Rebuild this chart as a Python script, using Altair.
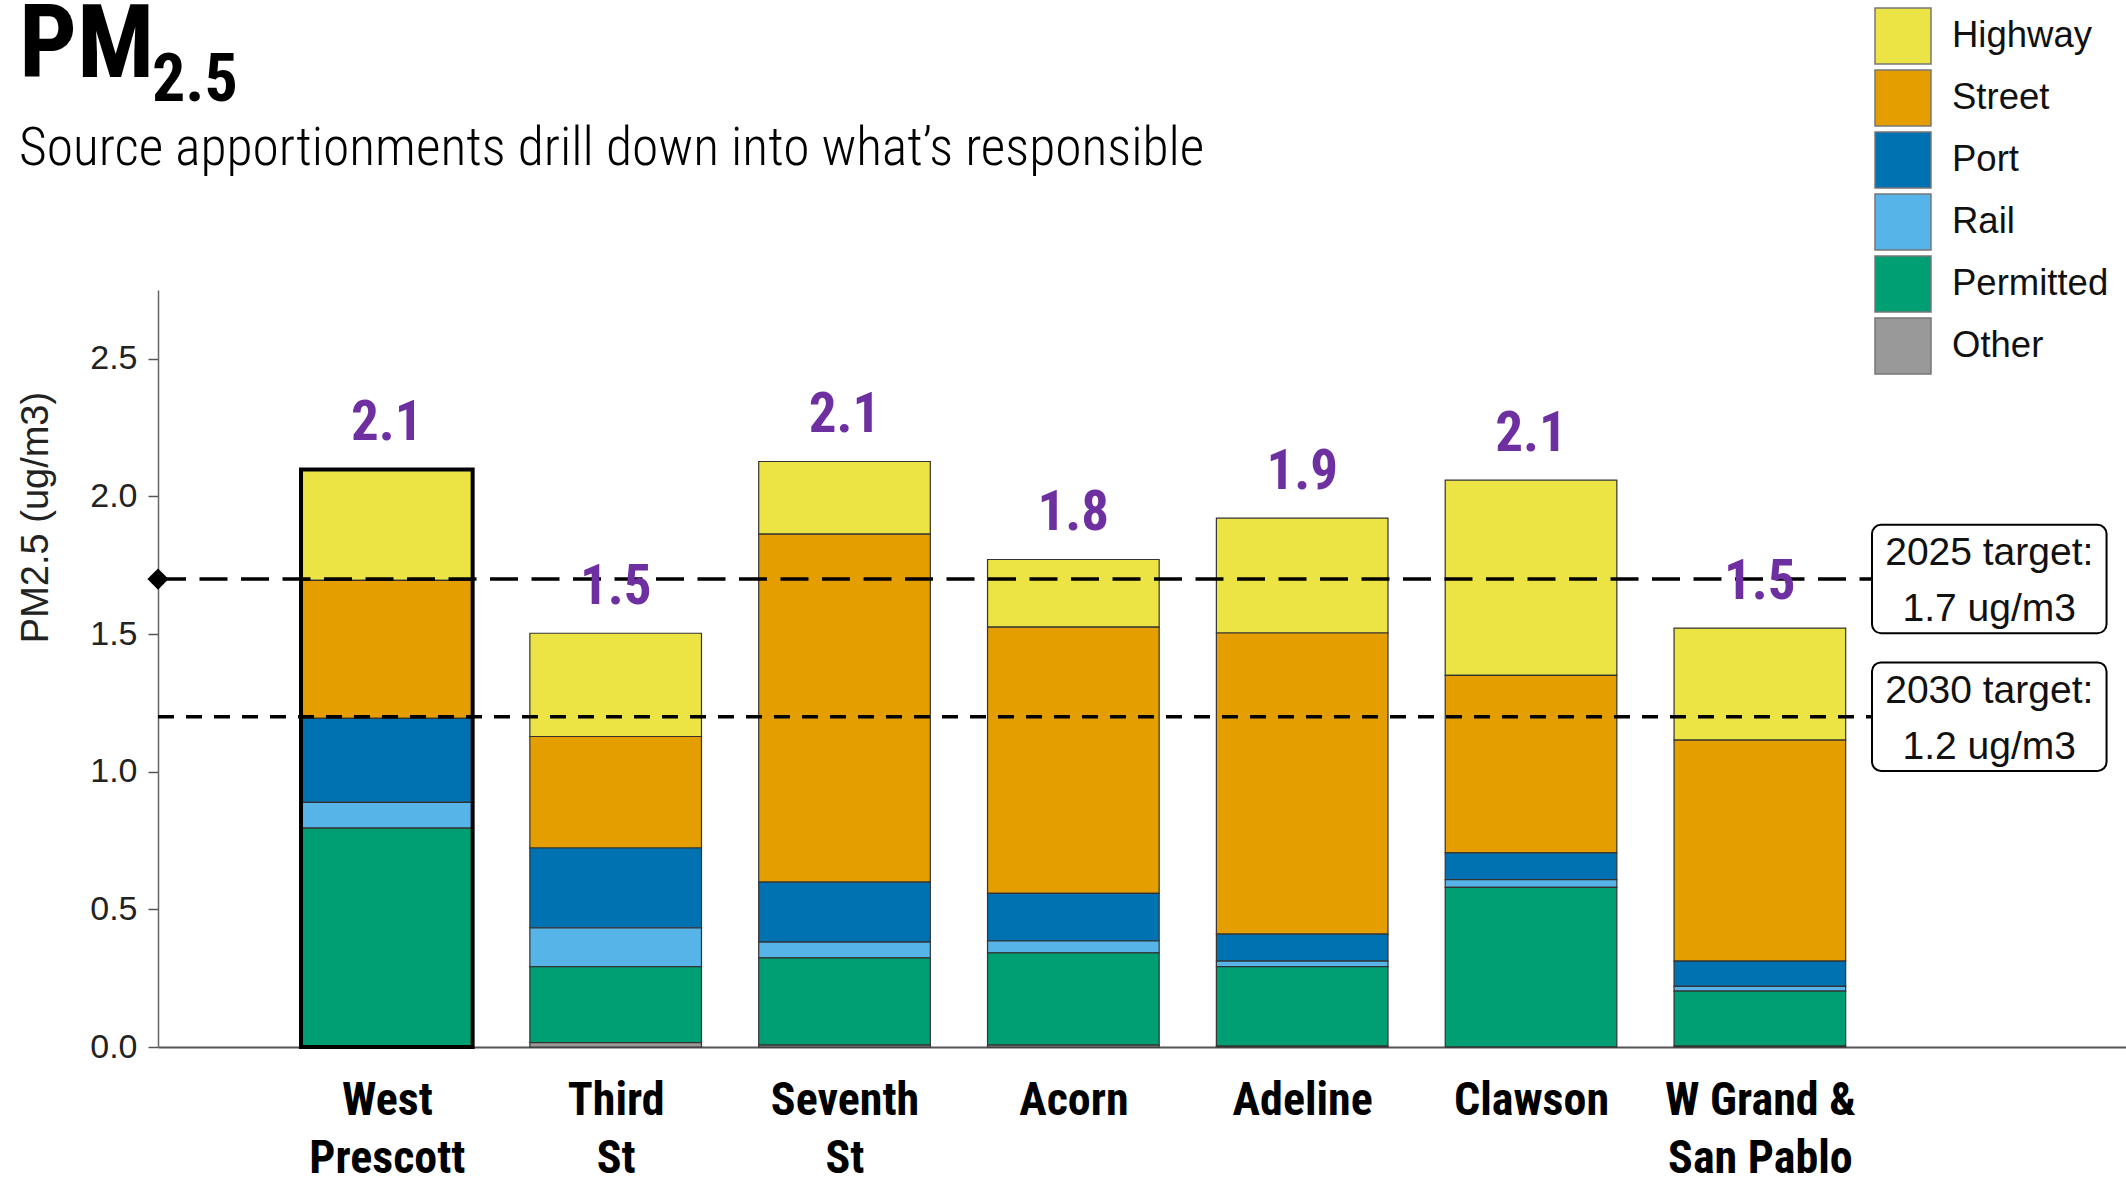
import altair as alt
import pandas as pd

# ---------------- data ----------------
sites = ["West Prescott", "Third St", "Seventh St", "Acorn", "Adeline", "Clawson", "W Grand & San Pablo"]
site_label_lines = [["West", "Prescott"], ["Third", "St"], ["Seventh", "St"], ["Acorn"],
                    ["Adeline"], ["Clawson"], ["W Grand &", "San Pablo"]]
highlighted = [True, False, False, False, False, False, False]

sources = ["Highway", "Street", "Port", "Rail", "Permitted", "Other"]
source_colors = ["#ECE445", "#E49E00", "#0072B2", "#56B4E9", "#009E73", "#999999"]

highway = [0.403, 0.375, 0.264, 0.246, 0.417, 0.709, 0.407]
street = [0.501, 0.405, 1.264, 0.967, 1.094, 0.645, 0.803]
port = [0.305, 0.290, 0.218, 0.173, 0.098, 0.097, 0.092]
rail = [0.094, 0.141, 0.057, 0.043, 0.020, 0.028, 0.017]
permitted = [0.795, 0.276, 0.317, 0.335, 0.289, 0.580, 0.200]
other = [0.000, 0.016, 0.007, 0.007, 0.003, 0.000, 0.003]

target_values = [1.7, 1.2]
target_labels = ["2025 target:\n1.7 ug/m3", "2030 target:\n1.2 ug/m3"]

title_main = "PM"
title_sub = "2.5"
subtitle_text = "Source apportionments drill down into what\u2019s responsible"
y_title = "PM2.5 (ug/m3)"
y_ticks = [0.0, 0.5, 1.0, 1.5, 2.0, 2.5]

# ---------------- layout / style ----------------
NARROW = "Liberation Sans Narrow, Roboto Condensed, DejaVu Sans Condensed, Liberation Sans, sans-serif"
SANS = "Liberation Sans, Arial, Helvetica, sans-serif"
PLOT_W, PLOT_H = 1968, 757
PAD_L, PAD_T = 158, 290
HALF_BAR = 0.375
BOX_L, BOX_R, BOX_HALF = 7.49, 8.515, 0.197

series = {"Highway": highway, "Street": street, "Port": port, "Rail": rail,
          "Permitted": permitted, "Other": other}
rows = []
for i, s in enumerate(sites):
    for k, src in enumerate(sources):
        rows.append({"site": s, "pos": i + 1, "source": src,
                     "order": len(sources) - 1 - k, "value": series[src][i]})
long_df = pd.DataFrame(rows)

site_df = pd.DataFrame({
    "site": sites,
    "pos": list(range(1, len(sites) + 1)),
    "total": [sum(series[src][i] for src in sources) for i in range(len(sites))],
    "highlight": highlighted,
})
targets_df = pd.DataFrame({"value": target_values, "label": target_labels})

label_expr = "[" + ",".join("[" + ",".join("'" + w + "'" for w in lines) + "]"
                            for lines in site_label_lines) + "][datum.value - 1]"

xscale = alt.Scale(domain=[0, 8.6], nice=False, zero=False)
yscale = alt.Scale(domain=[0, 2.75], nice=False)

bars = alt.Chart(long_df).transform_stack(
    stack="value", groupby=["site"], as_=["y0", "y1"],
    sort=[alt.SortField("order", order="ascending")]
).transform_calculate(
    x0=f"datum.pos - {HALF_BAR}", x1=f"datum.pos + {HALF_BAR}"
).mark_rect(stroke="#333333", strokeWidth=1.2).encode(
    x=alt.X("x0:Q", scale=xscale, title=None,
            axis=alt.Axis(values=list(range(1, len(sites) + 1)), labelExpr=label_expr,
                          ticks=False, tickSize=0, grid=False, domainColor="#555555",
                          domainWidth=2, labelFont=NARROW, labelFontWeight="bold",
                          labelFontSize=46, labelColor="black", labelLineHeight=58,
                          labelBaseline="top", labelPadding=31, labelAlign="center",
                          labelFlush=False, labelOverlap=False, labelBound=False,
                          labelLimit=600)),
    x2="x1:Q",
    y=alt.Y("y0:Q", scale=yscale, title=y_title,
            axis=alt.Axis(values=y_ticks, format=".1f", grid=False, domainColor="#666666",
                          domainWidth=1.5, tickColor="#555555", tickSize=10, tickWidth=1.5,
                          labelFont=SANS, labelFontSize=34, labelColor="#222222",
                          labelPadding=11, titleFont=SANS, titleFontSize=38,
                          titleFontWeight="normal", titleColor="#222222",
                          titleX=-103, titleY=227, titleAngle=270, titleBaseline="bottom")),
    y2="y1:Q",
    color=alt.Color("source:N", scale=alt.Scale(domain=sources, range=source_colors),
                    legend=alt.Legend(title=None, orient="none", legendX=1716, legendY=-283,
                                      symbolType="square", symbolSize=3136,
                                      symbolStrokeColor="#777777", symbolStrokeWidth=1.5,
                                      symbolOpacity=1, labelFont=SANS, labelFontSize=36.5,
                                      labelColor="#111111", labelOffset=20, rowPadding=0,
                                      padding=0, labelLimit=400)),
)

highlight_box = alt.Chart(site_df).transform_filter("datum.highlight").transform_calculate(
    x0=f"datum.pos - {HALF_BAR}", x1=f"datum.pos + {HALF_BAR}", base="0"
).mark_rect(fill="transparent", stroke="black", strokeWidth=4).encode(
    x="x0:Q", x2="x1:Q", y="base:Q", y2="total:Q"
)

rule_2025 = alt.Chart(targets_df.iloc[[0]]).mark_rule(
    strokeDash=[28, 13.5], strokeWidth=3.5, color="black"
).encode(x=alt.datum(0), x2=alt.datum(BOX_L), y="value:Q")

rule_2030 = alt.Chart(targets_df.iloc[[1]]).mark_rule(
    strokeDash=[16, 12], strokeWidth=3.5, color="black"
).encode(x=alt.datum(0), x2=alt.datum(BOX_L), y="value:Q")

diamond = alt.Chart(targets_df.iloc[[0]]).mark_point(
    shape="diamond", filled=True, size=450, color="black", opacity=1
).encode(x=alt.datum(0), y="value:Q")

totals = alt.Chart(site_df).mark_text(
    font=NARROW, fontWeight="bold", fontSize=55, color="#6E2FA0",
    baseline="alphabetic", align="center", dy=-29
).encode(x="pos:Q", y="total:Q", text=alt.Text("total:Q", format=".1f"))

boxes = alt.Chart(targets_df).transform_calculate(
    lo=f"datum.value - {BOX_HALF}", hi=f"datum.value + {BOX_HALF}"
).mark_rect(fill="white", stroke="black", strokeWidth=2, cornerRadius=9).encode(
    x=alt.datum(BOX_L), x2=alt.datum(BOX_R), y="lo:Q", y2="hi:Q"
)

box_text = alt.Chart(targets_df).mark_text(
    font=SANS, fontSize=39, color="#111111", align="center", baseline="middle",
    lineBreak="\n", lineHeight=56, dy=-26
).encode(x=alt.datum((BOX_L + BOX_R) / 2), y="value:Q", text="label:N")

head_df = pd.DataFrame({"t": [title_main]})
head_main = alt.Chart(head_df).mark_text(
    font=NARROW, fontWeight="bold", fontSize=102, color="black",
    align="left", baseline="alphabetic"
).encode(x=alt.value(19 - PAD_L), y=alt.value(77 - PAD_T), text=alt.value(title_main))

head_sub = alt.Chart(head_df).mark_text(
    font=NARROW, fontWeight="bold", fontSize=66, color="black",
    align="left", baseline="alphabetic"
).encode(x=alt.value(152 - PAD_L), y=alt.value(101 - PAD_T), text=alt.value(title_sub))

head_subtitle = alt.Chart(head_df).mark_text(
    font=NARROW, fontSize=53.5, fontWeight=300, color="black", align="left",
    baseline="alphabetic"
).encode(x=alt.value(19 - PAD_L), y=alt.value(165 - PAD_T), text=alt.value(subtitle_text))

chart = alt.layer(
    bars, highlight_box, rule_2025, rule_2030, diamond, totals, boxes, box_text,
    head_main, head_sub, head_subtitle
).properties(
    width=PLOT_W, height=PLOT_H,
    autosize=alt.AutoSizeParams(type="none"),
    padding={"left": PAD_L, "top": PAD_T, "right": 0, "bottom": 1180 - PAD_T - PLOT_H},
).configure(background="white", view=alt.ViewConfig(stroke=None))

chart.save("out.html", embed_options={"renderer": "svg", "actions": False})
